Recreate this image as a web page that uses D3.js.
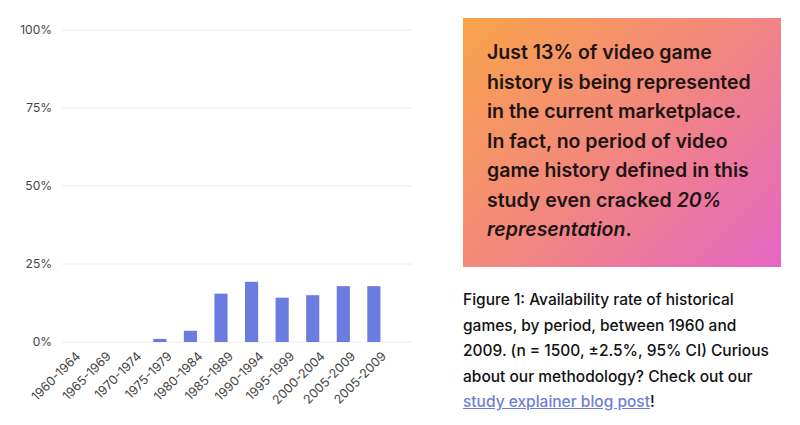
<!DOCTYPE html>
<html>
<head>
<meta charset="utf-8">
<script src="https://cdn.jsdelivr.net/npm/d3@7"></script>
<style>
  body { margin: 0; background: #fff; font-family: Inter, "Noto Sans", sans-serif; }
  #wrap { position: relative; width: 800px; height: 425px; }
  #box {
    position: absolute; left: 463px; top: 18px; width: 318px; height: 249px;
    background: linear-gradient(135deg, #f9a34a 0%, #f2877f 50%, #e566c4 100%);
    box-sizing: border-box; padding: 20px 0 0 24px; white-space: nowrap;
    font-size: 19.5px; font-weight: 600; line-height: 29.5px; color: #1e1414;
  }
  #caption {
    position: absolute; left: 463px; top: 287px; width: 337px; white-space: nowrap;
    font-size: 15.5px; font-weight: 500; line-height: 25.6px; color: #111;
  }
  #caption a { color: #6f7fd6; text-decoration: underline; }
</style>
</head>
<body>
<div id="wrap">
  <svg id="chart" width="430" height="425" style="position:absolute;left:0;top:0"></svg>
  <div id="box">Just 13% of video game<br>history is being represented<br>in the current marketplace.<br>In fact, no period of video<br>game history defined in this<br>study even cracked <i>20%</i><br><i>representation</i>.</div>
  <div id="caption">Figure 1: Availability rate of historical<br>games, by period, between 1960 and<br>2009. (n = 1500, ±2.5%, 95% CI) Curious<br>about our methodology? Check out our<br><a href="#">study explainer blog post</a>!</div>
</div>
<script>
const periods = ["1960-1964", "1965-1969", "1970-1974", "1975-1979", "1980-1984", "1985-1989",
                 "1990-1994", "1995-1999", "2000-2004", "2005-2009", "2005-2009 "];
const rates = [0, 0, 0, 1.0, 3.6, 15.5, 19.3, 14.2, 15.0, 17.9, 17.9];
const yTicks = [0, 25, 50, 75, 100];

const svg = d3.select("#chart");
const x = d3.scaleBand().domain(periods).range([53, 389]).paddingInner(0.57).paddingOuter(0.28);
const y = d3.scaleLinear().domain([0, 100]).range([342, 30]);

svg.append("g").selectAll("line").data(yTicks).enter().append("line")
    .attr("x1", 62).attr("x2", 412)
    .attr("y1", d => y(d)).attr("y2", d => y(d))
    .attr("stroke", "#ececec").attr("stroke-width", 1);

svg.append("g").selectAll("text").data(yTicks).enter().append("text")
    .attr("x", 52).attr("y", d => y(d) + 4)
    .attr("text-anchor", "end").attr("font-size", 12).attr("fill", "#444")
    .text(d => d + "%");

svg.append("g").selectAll("rect").data(rates).enter().append("rect")
    .attr("x", (d, i) => x(periods[i]))
    .attr("width", x.bandwidth())
    .attr("y", d => y(d))
    .attr("height", d => y(0) - y(d))
    .attr("fill", "#6b7be0");

svg.append("g").selectAll("text").data(periods).enter().append("text")
    .attr("transform", d => `translate(${x(d) + x.bandwidth() / 2 + 13},${357}) rotate(-45)`)
    .attr("text-anchor", "end").attr("font-size", 12.5).attr("fill", "#444")
    .text(d => d.trim());
</script>
</body>
</html>
